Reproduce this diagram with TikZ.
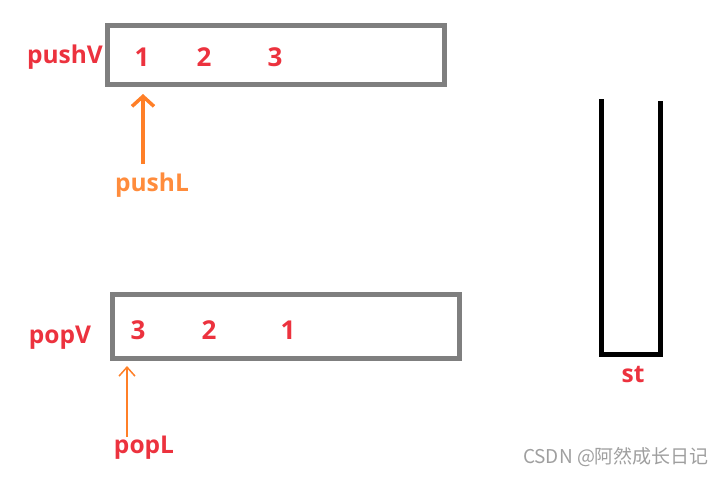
\documentclass[tikz,border=0pt]{standalone}
\usepackage{fontspec}
\setmainfont{Open Sans}
\newfontfamily\cjkfont{Noto Sans CJK SC}
\usetikzlibrary{arrows.meta}
\definecolor{numred}{RGB}{236,50,62}
\definecolor{ptrorange}{RGB}{255,127,39}
\definecolor{lblorange}{RGB}{255,140,60}
\definecolor{boxgray}{RGB}{127,127,127}
\begin{document}
\begin{tikzpicture}[
    x=1pt, y=-1pt,
    vec/.style={draw=boxgray, line width=5pt},
    num/.style={text=numred, font=\fontsize{26}{26}\selectfont\bfseries, inner sep=0pt},
    vlabel/.style={text=numred, font=\fontsize{24.5}{24.5}\selectfont\bfseries, inner sep=0pt},
    ptr/.style={draw=ptrorange, -{Straight Barb[length=10pt, width=22pt]}}
]
\useasboundingbox (0,0) rectangle (727,477);

% Vectors
\draw[vec] (107.5,25.5) rectangle (444.5,84.5);
\draw[vec] (112.5,294.5) rectangle (459.5,358.5);

% Names
\node[vlabel] (pushV) at (65,57) {pushV};
\node[vlabel] (popV) at (60,338) {popV};
\node[vlabel, text=lblorange] (pushL) at (152,185) {pushL};
\node[vlabel] (popL) at (144,448) {popL};

% Values
\node[num] (push1) at (142,57) {1};
\node[num] (push2) at (204,57) {2};
\node[num] (push3) at (275,57) {3};
\node[num] (pop3) at (138,330) {3};
\node[num] (pop2) at (209,330) {2};
\node[num] (pop1) at (288,330) {1};

% Pointers
\coordinate (pushTail) at (143,164);
\coordinate (pushTip) at (143,94);
\coordinate (popTail) at (127,437);
\coordinate (popTip) at (127,366);
\draw[ptr, line width=3.5pt] (pushTail) -- (pushTip);
\draw[ptr, line width=1.5pt, -{Straight Barb[length=9pt, width=16pt]}] (popTail) -- (popTip);

% Stack
\draw[line width=5pt, line join=miter] (601.5,99) -- (601.5,354.5) -- (660,354.5) -- (660,101);
\node[vlabel] (st) at (633,375) {st};

% Watermark
\node[text=boxgray!75, font=\cjkfont\fontsize{19}{19}\selectfont, inner sep=0pt] (mark) at (616,457) {CSDN @阿然成长日记};
\end{tikzpicture}
\end{document}
